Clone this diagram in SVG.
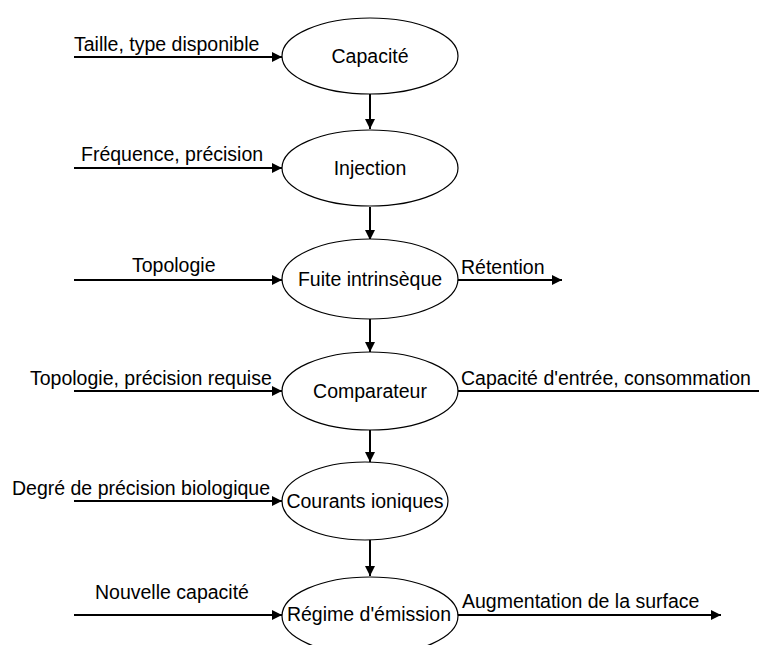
<svg xmlns="http://www.w3.org/2000/svg" width="759" height="645" viewBox="0 0 759 645">
<style>
.n{fill:#fff;stroke:#000;stroke-width:1.2}
.t{font-family:"Liberation Sans",Arial,sans-serif;font-size:19.5px;fill:#000}
.c{text-anchor:middle}
.e{fill:none;stroke:#000;stroke-width:2}
</style>
<defs>
<marker id="ah" viewBox="0 0 10 10" refX="10" refY="5" markerWidth="5" markerHeight="5" orient="auto" markerUnits="strokeWidth">
<path d="M0,0 L10,5 L0,10 z" fill="#000"/>
</marker>
</defs>
<rect width="759" height="645" fill="#fff"/>
<g id="connectors">
<line class="e" x1="74" y1="57" x2="282" y2="57" marker-end="url(#ah)"/>
<line class="e" x1="74" y1="168" x2="282" y2="168" marker-end="url(#ah)"/>
<line class="e" x1="74" y1="280" x2="282" y2="280" marker-end="url(#ah)"/>
<line class="e" x1="457" y1="280" x2="562" y2="280" marker-end="url(#ah)"/>
<line class="e" x1="74" y1="391" x2="282" y2="391" marker-end="url(#ah)"/>
<line class="e" x1="457" y1="391" x2="759" y2="391"/>
<line class="e" x1="74" y1="501" x2="282" y2="501" marker-end="url(#ah)"/>
<line class="e" x1="74" y1="615" x2="282" y2="615" marker-end="url(#ah)"/>
<line class="e" x1="457" y1="615" x2="721" y2="615" marker-end="url(#ah)"/>
<line class="e" x1="370" y1="94" x2="370" y2="129" marker-end="url(#ah)"/>
<line class="e" x1="370" y1="207" x2="370" y2="240" marker-end="url(#ah)"/>
<line class="e" x1="370" y1="318" x2="370" y2="352" marker-end="url(#ah)"/>
<line class="e" x1="370" y1="430" x2="370" y2="462" marker-end="url(#ah)"/>
<line class="e" x1="370" y1="540" x2="370" y2="576" marker-end="url(#ah)"/>
<text class="t" x="74" y="51">Taille, type disponible</text>
<text class="t" x="81" y="161">Fréquence, précision</text>
<text class="t" x="132" y="272">Topologie</text>
<text class="t" x="461" y="274">Rétention</text>
<text class="t" x="30" y="385">Topologie, précision requise</text>
<text class="t" x="461" y="385">Capacité d'entrée, consommation</text>
<text class="t" x="12" y="495">Degré de précision biologique</text>
<text class="t" x="95" y="599">Nouvelle capacité</text>
<text class="t" x="462" y="608">Augmentation de la surface</text>
</g>
<g id="n1"><ellipse class="n" cx="370" cy="56" rx="88" ry="38"/><text class="t c" x="370" y="63">Capacité</text></g>
<g id="n2"><ellipse class="n" cx="370" cy="168" rx="88" ry="38"/><text class="t c" x="370" y="175">Injection</text></g>
<g id="n3"><ellipse class="n" cx="370" cy="279" rx="88" ry="40"/><text class="t c" x="370" y="286">Fuite intrinsèque</text></g>
<g id="n4"><ellipse class="n" cx="370" cy="391" rx="88" ry="39"/><text class="t c" x="370" y="398">Comparateur</text></g>
<g id="n5"><ellipse class="n" cx="365" cy="501" rx="83" ry="39"/><text class="t c" x="365" y="508">Courants ioniques</text></g>
<g id="n6"><ellipse class="n" cx="370" cy="616" rx="88" ry="39"/><text class="t c" x="369" y="621">Régime d'émission</text></g>
</svg>
